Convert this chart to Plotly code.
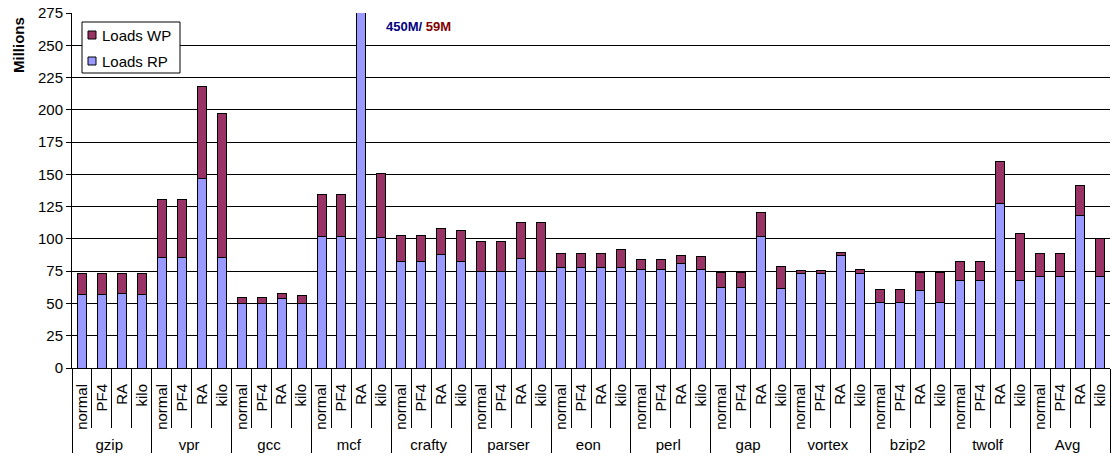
import plotly.graph_objects as go

benchmarks = ["gzip", "vpr", "gcc", "mcf", "crafty", "parser", "eon",
              "perl", "gap", "vortex", "bzip2", "twolf", "Avg"]
configs = ["normal", "PF4", "RA", "kilo"]

# Loads RP (millions), per benchmark: normal, PF4, RA, kilo
loads_rp = [
    57.2, 57.2, 58.0, 57.2,       # gzip
    85.5, 85.5, 146.8, 85.5,      # vpr
    50.2, 50.2, 54.1, 50.2,       # gcc
    101.5, 101.5, 450.0, 101.3,   # mcf
    82.4, 82.4, 88.1, 82.4,       # crafty
    75.1, 75.1, 84.7, 75.1,       # parser
    77.5, 77.7, 77.5, 77.8,       # eon
    76.1, 76.1, 80.8, 76.1,       # perl
    62.1, 62.1, 102.1, 61.9,      # gap
    73.3, 73.3, 87.1, 73.3,       # vortex
    50.4, 50.4, 60.0, 50.4,       # bzip2
    67.6, 67.6, 127.8, 67.6,      # twolf
    71.2, 71.2, 118.5, 71.2,      # Avg
]

# Loads WP (millions) stacked on top of RP
loads_wp = [
    16.1, 16.1, 15.3, 16.1,
    45.1, 45.1, 70.9, 112.0,
    4.4, 4.4, 3.3, 6.2,
    33.1, 33.1, 59.0, 49.3,
    20.0, 20.0, 20.0, 23.9,
    22.6, 22.6, 28.1, 37.7,
    10.9, 10.7, 10.9, 14.2,
    7.6, 7.6, 6.5, 10.2,
    12.2, 12.2, 18.2, 16.8,
    2.1, 2.1, 2.3, 2.8,
    10.7, 10.7, 14.3, 23.9,
    14.6, 14.6, 32.3, 36.8,
    17.2, 17.2, 23.1, 29.3,
]

group_level = [b for b in benchmarks for _ in configs]
config_level = [c for _ in benchmarks for c in configs]
x_cats = [group_level, config_level]

FONT = "Liberation Sans, Arial, sans-serif"
RP_COLOR = "#9999FF"
WP_COLOR = "#993366"

# plot area in pixels, used to place the boxed legend and side labels
W, H = 1112, 459
L, R, T, B = 72, 2, 13, 91
PW, PH = W - L - R, H - T - B


def px(xp):
    return (xp - L) / PW


def py(yp):
    return (H - B - yp) / PH


fig = go.Figure()
fig.add_trace(go.Bar(
    x=x_cats, y=loads_rp, name="Loads RP",
    marker=dict(color=RP_COLOR, line=dict(color="#000000", width=1)),
))
fig.add_trace(go.Bar(
    x=x_cats, y=loads_wp, name="Loads WP",
    marker=dict(color=WP_COLOR, line=dict(color="#000000", width=1)),
))

# Off-scale mcf RA bar: print its actual RP / WP values
fig.add_annotation(
    xref="paper", yref="paper", x=px(384), y=py(27),
    xanchor="left", yanchor="middle", showarrow=False,
    text="<b><span style='color:#000080'>450M</span>"
         "<span style='color:#000080'>/ </span>"
         "<span style='color:#800000'>59M</span></b>",
    font=dict(family=FONT, size=13),
)

# Y axis title, sitting at the top of the axis
fig.add_annotation(
    xref="paper", yref="paper", x=px(18), y=py(45),
    xanchor="center", yanchor="middle", showarrow=False, textangle=-90,
    text="<b>Millions</b>", font=dict(family=FONT, size=15, color="#000000"),
)

# Boxed legend
shapes = [
    dict(type="rect", xref="paper", yref="paper",
         x0=px(82), x1=px(180), y0=py(73), y1=py(22),
         line=dict(color="#000000", width=1), fillcolor="white", layer="above"),
]
legend_items = [("Loads WP", WP_COLOR, 35), ("Loads RP", RP_COLOR, 61)]
for label, color, yc in legend_items:
    shapes.append(dict(type="rect", xref="paper", yref="paper",
                       x0=px(88), x1=px(96), y0=py(yc + 4), y1=py(yc - 4),
                       line=dict(color="#000000", width=1), fillcolor=color,
                       layer="above"))
    fig.add_annotation(
        xref="paper", yref="paper", x=px(100), y=py(yc),
        xanchor="left", yanchor="middle", showarrow=False,
        text=label, font=dict(family=FONT, size=15, color="#000000"),
    )

fig.update_layout(
    width=W, height=H,
    margin=dict(l=L, r=R, t=T, b=B),
    barmode="stack", bargap=0.55,
    plot_bgcolor="white", paper_bgcolor="white",
    font=dict(family=FONT, size=15, color="#000000"),
    showlegend=False,
    shapes=shapes,
    yaxis=dict(
        range=[0, 275], dtick=25, tick0=0,
        showgrid=True, gridcolor="#000000", gridwidth=1,
        showline=True, linecolor="#000000", linewidth=1,
        ticks="outside", ticklen=5, tickcolor="#000000",
        tickfont=dict(family=FONT, size=15),
        zeroline=False,
    ),
    xaxis=dict(
        type="multicategory",
        showline=True, linecolor="#000000", linewidth=1,
        ticks="outside", ticklen=59, tickcolor="#000000",
        tickangle=-90, ticklabelstandoff=9,
        tickfont=dict(family=FONT, size=15),
        showdividers=True, dividercolor="#000000", dividerwidth=1,
        showgrid=False,
    ),
)

fig.write_html("out.html")
